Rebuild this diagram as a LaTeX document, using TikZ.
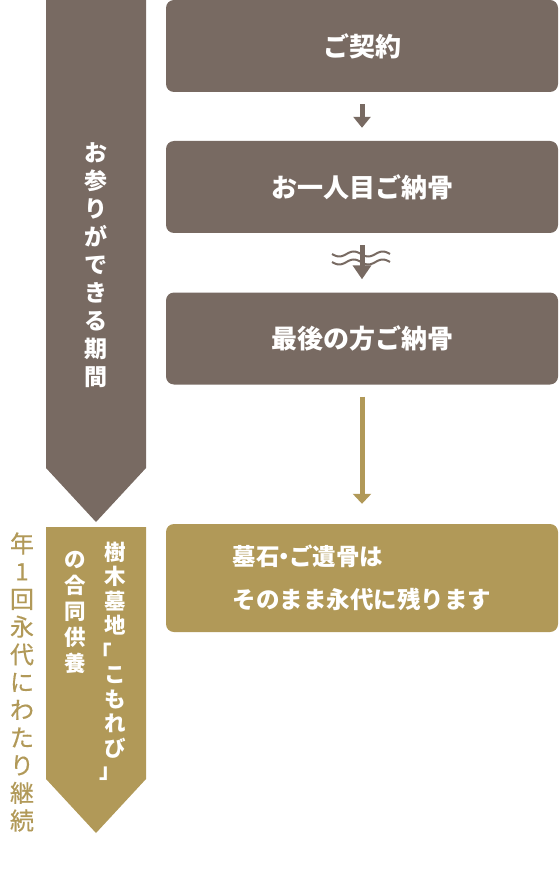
\documentclass[tikz,border=0pt]{standalone}
\usepackage{fontspec}
\setmainfont{Noto Sans CJK JP}
\newfontfamily\jpmed[FakeBold=0.5]{Noto Sans CJK JP}
\usetikzlibrary{arrows.meta}
\definecolor{stone}{HTML}{786A62}
\definecolor{ochre}{HTML}{B19958}
\begin{document}
\begin{tikzpicture}[x=1pt,y=-1pt]
\useasboundingbox (0,0) rectangle (558,874);

% banners on the left
\fill[stone] (46,0) -- (146,0) -- (146,468) -- (96,522) -- (46,468) -- cycle;
\fill[ochre] (46,527) -- (146,527) -- (146,779) -- (96,833) -- (46,779) -- cycle;

\begin{scope}[every node/.style={text=white,align=center,inner sep=0pt,font=\bfseries\fontsize{23}{28}\selectfont}]
    \node (p) at (96,265) {お\\参\\り\\が\\で\\き\\る\\期\\間};
    \node[font=\bfseries\fontsize{21.5}{24.5}\selectfont] (k) at (115,650) {樹\\木\\墓\\地\\\mbox{}\\こ\\も\\れ\\び};
    \node[font=\bfseries\fontsize{21.5}{24.5}\selectfont] (lb) at (101,652) {「};
    \node[font=\bfseries\fontsize{21.5}{24.5}\selectfont] (rb) at (110,774) {」};
    \node[font=\bfseries\fontsize{21.5}{26}\selectfont] (g) at (75,612) {の\\合\\同\\供\\養};
    \node[text=ochre,font=\jpmed\fontsize{24}{27.7}\selectfont] (y) at (22,682) {年\\1\\回\\永\\代\\に\\わ\\た\\り\\継\\続};
\end{scope}

% steps
\begin{scope}[every node/.style={rectangle,rounded corners=8pt,fill=stone,text=white,
              minimum width=392pt,minimum height=92pt,font=\bfseries\fontsize{26}{30}\selectfont}]
    \node (1) at (362,46) {ご契約};
    \node (2) at (362,187) {お一人目ご納骨};
    \node (3) at (362,338.5) {最後の方ご納骨};
    \node[fill=ochre,minimum height=108pt,align=left,font=\bfseries\fontsize{23.5}{43}\selectfont] (4) at (362,578) {墓石\kern-.3em・\kern-.3em ご遺骨は\\そのまま永代に残ります};
\end{scope}

\begin{scope}[every edge/.style={draw,line width=5pt}]
    \path [-{Triangle[width=17pt,length=11pt]},stone,shorten <=12pt,shorten >=13pt] (1) edge (2);
    \path [-{Triangle[width=18pt,length=14pt]},stone,shorten <=12pt,shorten >=13pt] (2) edge (3);
    \path [-{Triangle[width=18pt,length=10pt]},ochre,shorten <=12pt,shorten >=20pt] (3) edge (4);
\end{scope}

% break mark
\draw[stone,line width=2pt] plot[domain=332:390,samples=60] (\x,{254+2.5*sin((\x-332)/29*360)});
\draw[stone,line width=2pt] plot[domain=332:390,samples=60] (\x,{262+2.5*sin((\x-332)/29*360)});
\end{tikzpicture}
\end{document}
